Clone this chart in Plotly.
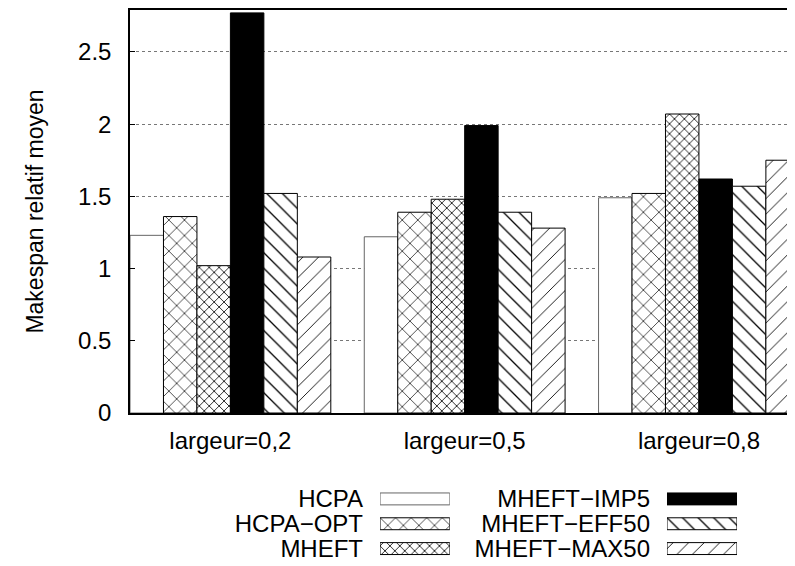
import plotly.graph_objects as go

# Données
groupes = ['largeur=0,2', 'largeur=0,5', 'largeur=0,8']
series = ['HCPA', 'HCPA−OPT', 'MHEFT', 'MHEFT−IMP5', 'MHEFT−EFF50', 'MHEFT−MAX50']

hcpa = [1.23, 1.22, 1.49]
hcpa_opt = [1.36, 1.39, 1.52]
mheft = [1.02, 1.48, 2.07]
mheft_imp5 = [2.77, 1.99, 1.62]
mheft_eff50 = [1.52, 1.39, 1.57]
mheft_max50 = [1.08, 1.28, 1.75]

valeurs = [hcpa, hcpa_opt, mheft, mheft_imp5, mheft_eff50, mheft_max50]

# Styles (motifs noir et blanc façon gnuplot)
styles = [
    dict(color='white', line='#666666', shape='', size=8, solidity=0.1),
    dict(color='white', line='black', shape='x', size=11, solidity=0.12),
    dict(color='white', line='black', shape='x', size=7, solidity=0.22),
    dict(color='black', line='black', shape='', size=8, solidity=0.1),
    dict(color='white', line='black', shape='\\', size=11, solidity=0.12),
    dict(color='white', line='black', shape='/', size=11, solidity=0.08),
]

POLICE = 'Liberation Sans, Arial, sans-serif'
TAILLE = 24


def marqueur(st):
    return dict(color=st['color'],
                line=dict(color=st['line'], width=1),
                pattern=dict(shape=st['shape'], size=st['size'], solidity=st['solidity'],
                             fgcolor='black', bgcolor=st['color'], fillmode='replace'))


fig = go.Figure()

for nom, vals, st in zip(series, valeurs, styles):
    fig.add_trace(go.Bar(x=groupes, y=vals, name=nom, showlegend=False,
                         marker=marqueur(st), xaxis='x', yaxis='y'))

# Légende construite avec deux petits axes (texte à gauche, motif à droite)
colonnes = [(series[:3], styles[:3], 'x2', 'y2'), (series[3:], styles[3:], 'x3', 'y3')]
for noms, sts, xa, ya in colonnes:
    for nom, st in zip(noms, sts):
        fig.add_trace(go.Bar(x=[1], y=[nom], orientation='h', width=0.48, offset=-0.24,
                             showlegend=False, hoverinfo='skip',
                             marker=marqueur(st), xaxis=xa, yaxis=ya))

axe_leg_x = dict(range=[0, 1], showgrid=False, zeroline=False, showticklabels=False,
                 showline=False, fixedrange=True, automargin=False)


def axe_leg_y(noms):
    return dict(showgrid=False, zeroline=False, showline=False, automargin=False,
                type='category', range=[2.5, -0.5],
                tickmode='array', tickvals=noms, ticktext=noms,
                ticks='', ticklabelstandoff=16, tickfont=dict(size=24, color='black'))


# la page ajoute 8 px de marge autour de la figure
fig.update_layout(
    width=787, height=558,
    margin=dict(l=122, r=0, t=2, b=5, autoexpand=False),
    paper_bgcolor='white', plot_bgcolor='white',
    font=dict(family=POLICE, size=TAILLE, color='black'),
    barmode='group', bargap=1/7, bargroupgap=0,
    xaxis=dict(domain=[0, 1], anchor='y', range=[-3/7, 2.41], automargin=False,
               showline=True, linecolor='black', linewidth=1.5, mirror=True,
               ticks='', showgrid=False, ticklabelstandoff=5,
               tickfont=dict(size=TAILLE)),
    yaxis=dict(domain=[0.2686, 1], anchor='x', range=[0, 2.79], dtick=0.5, automargin=False,
               showline=True, linecolor='black', linewidth=1.5, mirror=False,
               ticks='inside', ticklen=5, tickcolor='black', ticklabelstandoff=12,
               showgrid=True, gridcolor='#777777', griddash='dot', gridwidth=1,
               zeroline=False,
               title=dict(text='Makespan relatif moyen', standoff=28,
                          font=dict(size=23))),
    xaxis2=dict(domain=[0.376, 0.481], anchor='y2', **axe_leg_x),
    yaxis2=dict(domain=[0, 0.1352], anchor='x2', **axe_leg_y(series[:3])),
    xaxis3=dict(domain=[0.8075, 0.9128], anchor='y3', **axe_leg_x),
    yaxis3=dict(domain=[0, 0.1352], anchor='x3', **axe_leg_y(series[3:])),
)

fig.write_html("out.html")
